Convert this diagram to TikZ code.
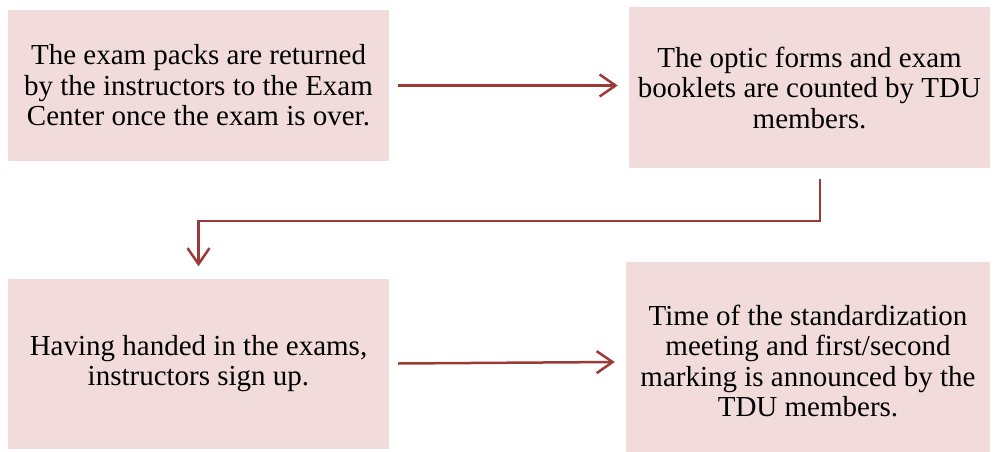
\documentclass[tikz,border=0pt]{standalone}
\usepackage{fontspec}
\setmainfont{Liberation Serif}
\usetikzlibrary{arrows.meta}
\definecolor{boxfill}{HTML}{F2DCDB}
\definecolor{flowred}{HTML}{9B3A37}
\begin{document}
\begin{tikzpicture}[x=1pt,y=-1pt,
  stepbox/.style={fill=boxfill, draw=none, inner sep=0pt, align=center,
    font=\fontsize{29}{30.5}\selectfont},
  steptext/.style={inner sep=0pt, align=center,
    font=\fontsize{29}{30.5}\selectfont},
  flow/.style={draw=flowred, line width=2.5pt,
    -{Straight Barb[length=16pt,width=22pt,line width=2.5pt]}}]
\useasboundingbox (0,0) rectangle (998,452);
\node[stepbox, minimum width=381pt, minimum height=151pt] (b1) at (198.5,85.5)
  {The exam packs are returned\\by the instructors to the Exam\\Center once the exam is over.};
\node[stepbox, minimum width=361pt, minimum height=161pt] (b2) at (809.5,87.5)
  {The optic forms and exam\\booklets are counted by TDU\\members.};
\node[stepbox, minimum width=381pt, minimum height=170pt] (b3) at (198.5,363.5)
  {Having handed in the exams,\\instructors sign up.};
\node[stepbox, minimum width=364pt, minimum height=190pt] (b4) at (808,357) {};
\node[steptext] (b4t) at ([yshift=-4pt]b4.center)
  {Time of the standardization\\meeting and first/second\\marking is announced by the\\TDU members.};
% connectors between the steps
\draw[flow] ([xshift=9pt]b1.east) -- ([xshift=-11pt]b2.west |- b1.east);
\coordinate (bend1) at ([xshift=10.5pt,yshift=-11pt]b2.south);
\coordinate (bend2) at (bend1 |- 0,221);
\draw[flow] (bend1) -- (bend2) -- (bend2 -| b3.north) -- ([yshift=12pt]b3.north);
\draw[flow] ([xshift=9pt]b3.east) -- ([xshift=-11pt]b4.west |- 0,362);
\end{tikzpicture}
\end{document}
